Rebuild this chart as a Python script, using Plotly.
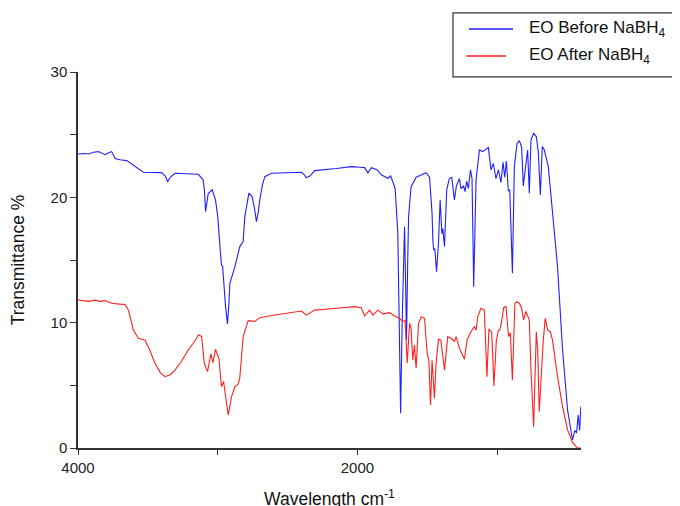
import plotly.graph_objects as go

wn_before = [4000, 3960, 3925, 3890, 3854, 3830, 3806, 3780, 3759, 3734, 3700, 3651, 3620, 3591, 3560, 3532,
             3401, 3375, 3358, 3340, 3306, 3139, 3104, 3095, 3087, 3078, 3068, 3039, 3016, 3000, 2991, 2980,
             2973, 2965, 2944, 2930, 2920, 2913, 2877, 2842, 2818, 2806, 2777, 2754, 2735, 2723, 2710, 2699,
             2680, 2663, 2616, 2401, 2380, 2366, 2340, 2306, 2150, 2044, 1980, 1949, 1925, 1901, 1860, 1830,
             1782, 1763, 1745, 1730, 1711, 1700, 1691, 1680, 1670, 1663, 1655, 1649, 1640, 1634, 1616, 1580,
             1544, 1509, 1484, 1466, 1460, 1454, 1446, 1434, 1420, 1408, 1396, 1389, 1377, 1361, 1342, 1325,
             1306, 1292, 1270, 1259, 1240, 1230, 1218, 1206, 1191, 1180, 1168, 1151, 1127, 1104, 1063, 1044,
             1027, 1009, 991, 973, 958, 946, 934, 920, 910, 891, 877, 858, 841, 825, 813, 798, 782, 770, 758,
             739, 720, 706, 691, 677, 663, 634, 604, 568, 532, 496, 461, 444, 432, 420, 410, 401]
t_before = [23.46, 23.5, 23.46, 23.6, 23.65, 23.5, 23.4, 23.55, 23.65, 23.1, 23.0, 22.93, 22.7, 22.45, 22.2, 22.0,
            21.97, 21.7, 21.25, 21.6, 21.92, 21.84, 21.4, 20.5, 18.86, 19.5, 20.3, 20.6, 19.8, 18.5, 16.86, 15.5,
            14.6, 14.5, 11.28, 9.9, 11.5, 13.14, 14.47, 16.07, 16.47, 18.46, 20.33, 20.06, 19.0, 18.06, 18.8, 19.8,
            21.0, 21.65, 21.92, 22.0, 21.8, 21.57, 21.7, 22.13, 22.3, 22.45, 22.4, 22.37, 21.95, 22.37, 22.2, 21.8,
            21.52, 21.7, 21.2, 20.7, 17.1, 10.0, 2.77, 10.0, 16.5, 17.66, 13.0, 8.62, 15.0, 18.46, 20.85, 21.6,
            21.79, 21.97, 21.6, 18.73, 16.5, 15.8, 15.9, 14.07, 16.33, 19.8, 17.1, 17.5, 16.07, 20.6, 21.52, 21.6,
            19.8, 20.9, 21.5, 20.7, 20.9, 20.46, 21.3, 20.7, 22.19, 21.5, 12.87, 21.4, 23.78, 23.65, 23.97, 22.19,
            22.7, 21.5, 22.2, 21.18, 22.8, 21.6, 22.9, 20.5, 20.6, 13.94, 22.45, 24.3, 24.53, 24.0, 20.9, 22.45,
            23.78, 20.33, 24.58, 25.1, 24.85, 23.65, 20.19, 24.05, 23.8, 22.45, 19.0, 14.47, 7.82, 3.03, 0.64,
            1.4, 1.2, 2.63, 1.4, 3.3]

wn_after = [4000, 3960, 3925, 3880, 3840, 3806, 3780, 3759, 3720, 3663, 3639, 3620, 3604, 3568, 3520, 3490, 3449,
            3410, 3377, 3340, 3306, 3260, 3211, 3160, 3139, 3115, 3096, 3073, 3049, 3034, 3016, 2991, 2973, 2958,
            2944, 2925, 2901, 2877, 2854, 2842, 2818, 2782, 2735, 2699, 2591, 2401, 2366, 2306, 2150, 2020, 1973,
            1949, 1913, 1889, 1854, 1818, 1771, 1734, 1699, 1675, 1659, 1644, 1627, 1616, 1604, 1592, 1580, 1563,
            1544, 1520, 1501, 1489, 1477, 1466, 1449, 1437, 1420, 1403, 1377, 1354, 1330, 1306, 1294, 1270, 1234,
            1216, 1187, 1163, 1151, 1139, 1116, 1092, 1073, 1059, 1039, 1023, 1006, 991, 982, 970, 954, 937, 918,
            906, 891, 873, 858, 841, 825, 811, 794, 770, 758, 739, 720, 710, 699, 687, 677, 670, 656, 639, 620,
            604, 568, 532, 496, 461, 425, 401]
t_after = [11.81, 11.75, 11.7, 11.8, 11.7, 11.76, 11.65, 11.55, 11.5, 11.45, 11.0, 10.2, 9.42, 8.75, 8.6, 7.9, 6.76,
           6.0, 5.69, 5.85, 6.22, 6.9, 7.82, 8.6, 9.02, 8.9, 6.76, 6.09, 7.5, 6.8, 7.88, 7.1, 4.9, 5.3,
           4.1, 2.63, 4.1, 4.9, 5.1, 5.6, 8.88, 10.16, 10.1, 10.4, 10.61, 10.93, 10.6, 11.0, 11.15, 11.28, 11.2,
           10.53, 11.0, 10.6, 11.0, 10.7, 10.8, 10.53, 10.35, 10.08, 10.2, 6.76, 9.95, 9.5, 7.0, 8.22, 6.36, 9.9,
           10.48, 10.35, 7.56, 7.0, 3.43, 7.0, 3.96, 6.8, 8.67, 8.6, 6.22, 8.88, 8.75, 8.5, 8.88, 7.96, 7.08,
           8.6, 9.3, 9.68, 9.4, 10.48, 11.15, 11.0, 5.69, 9.5, 9.2, 4.95, 8.6, 9.4, 9.4, 9.95, 11.2, 11.28, 8.9,
           9.2, 5.43, 11.55, 11.68, 11.55, 11.15, 10.2, 10.9, 10.2, 6.22, 1.7, 9.28, 7.8, 2.9, 5.43, 6.8, 8.6,
           10.35, 9.4, 9.3, 8.6, 5.69, 3.3, 1.44, 0.45, 0.0, 0.0]

series_names = ["EO Before NaBH<sub>4</sub>", "EO After NaBH<sub>4</sub>"]
series_colors = ["#2020ff", "#ff2020"]

fig = go.Figure()
fig.add_trace(go.Scatter(x=wn_before, y=t_before, mode="lines", name=series_names[0],
                         line=dict(color=series_colors[0], width=1.1)))
fig.add_trace(go.Scatter(x=wn_after, y=t_after, mode="lines", name=series_names[1],
                         line=dict(color=series_colors[1], width=1.1)))

axis_font = dict(family="Liberation Sans, Arial, sans-serif", size=15, color="#222")
fig.update_layout(
    width=680, height=506,
    margin=dict(l=70, r=107, t=64, b=66),
    plot_bgcolor="white", paper_bgcolor="white",
    font=dict(family="Liberation Sans, Arial, sans-serif", color="#222"),
    showlegend=False,
    xaxis=dict(range=[4000, 400], showgrid=False, zeroline=False, automargin=False,
               showline=True, linecolor="#333", linewidth=1.5,
               ticks="outside", ticklen=5, tickwidth=1.3, tickcolor="#333",
               tickmode="linear", tick0=0, dtick=2000,
               minor=dict(dtick=1000, tick0=0, ticks="outside", ticklen=5, tickwidth=1.3, tickcolor="#333"),
               tickfont=axis_font,
               title=dict(text="Wavelength cm<sup>-1</sup>", font=dict(size=17.5, color="#111"), standoff=18)),
    yaxis=dict(range=[0, 30], showgrid=False, zeroline=False, automargin=False,
               showline=True, linecolor="#333", linewidth=1.5,
               ticks="outside", ticklen=6, tickwidth=1.3, tickcolor="#333",
               tickmode="linear", tick0=0, dtick=10,
               minor=dict(dtick=5, ticks="outside", ticklen=6, tickwidth=1.3, tickcolor="#333"),
               tickfont=axis_font,
               title=dict(text="Transmittance %", font=dict(size=17.5, color="#111"), standoff=22)),
)

# legend box (extends past right edge as in the original)
fig.add_shape(type="rect", xref="paper", yref="paper",
              x0=0.7455, x1=1.25, y0=0.987, y1=1.157,
              line=dict(color="#333", width=1.2), fillcolor="rgba(0,0,0,0)")
# legend entries
legend_rows = [
    dict(x0=0.7773, x1=0.8648, y=1.1144),
    dict(x0=0.7714, x1=0.8509, y=1.0426),
]
for name, color, row in zip(series_names, series_colors, legend_rows):
    fig.add_shape(type="line", xref="paper", yref="paper",
                  x0=row["x0"], x1=row["x1"], y0=row["y"], y1=row["y"],
                  line=dict(color=color, width=1.3))
    fig.add_annotation(xref="paper", yref="paper", x=0.8926, y=row["y"],
                       xanchor="left", yanchor="middle", showarrow=False,
                       text=name, font=dict(size=17, color="#111"))

fig.write_html("out.html")
